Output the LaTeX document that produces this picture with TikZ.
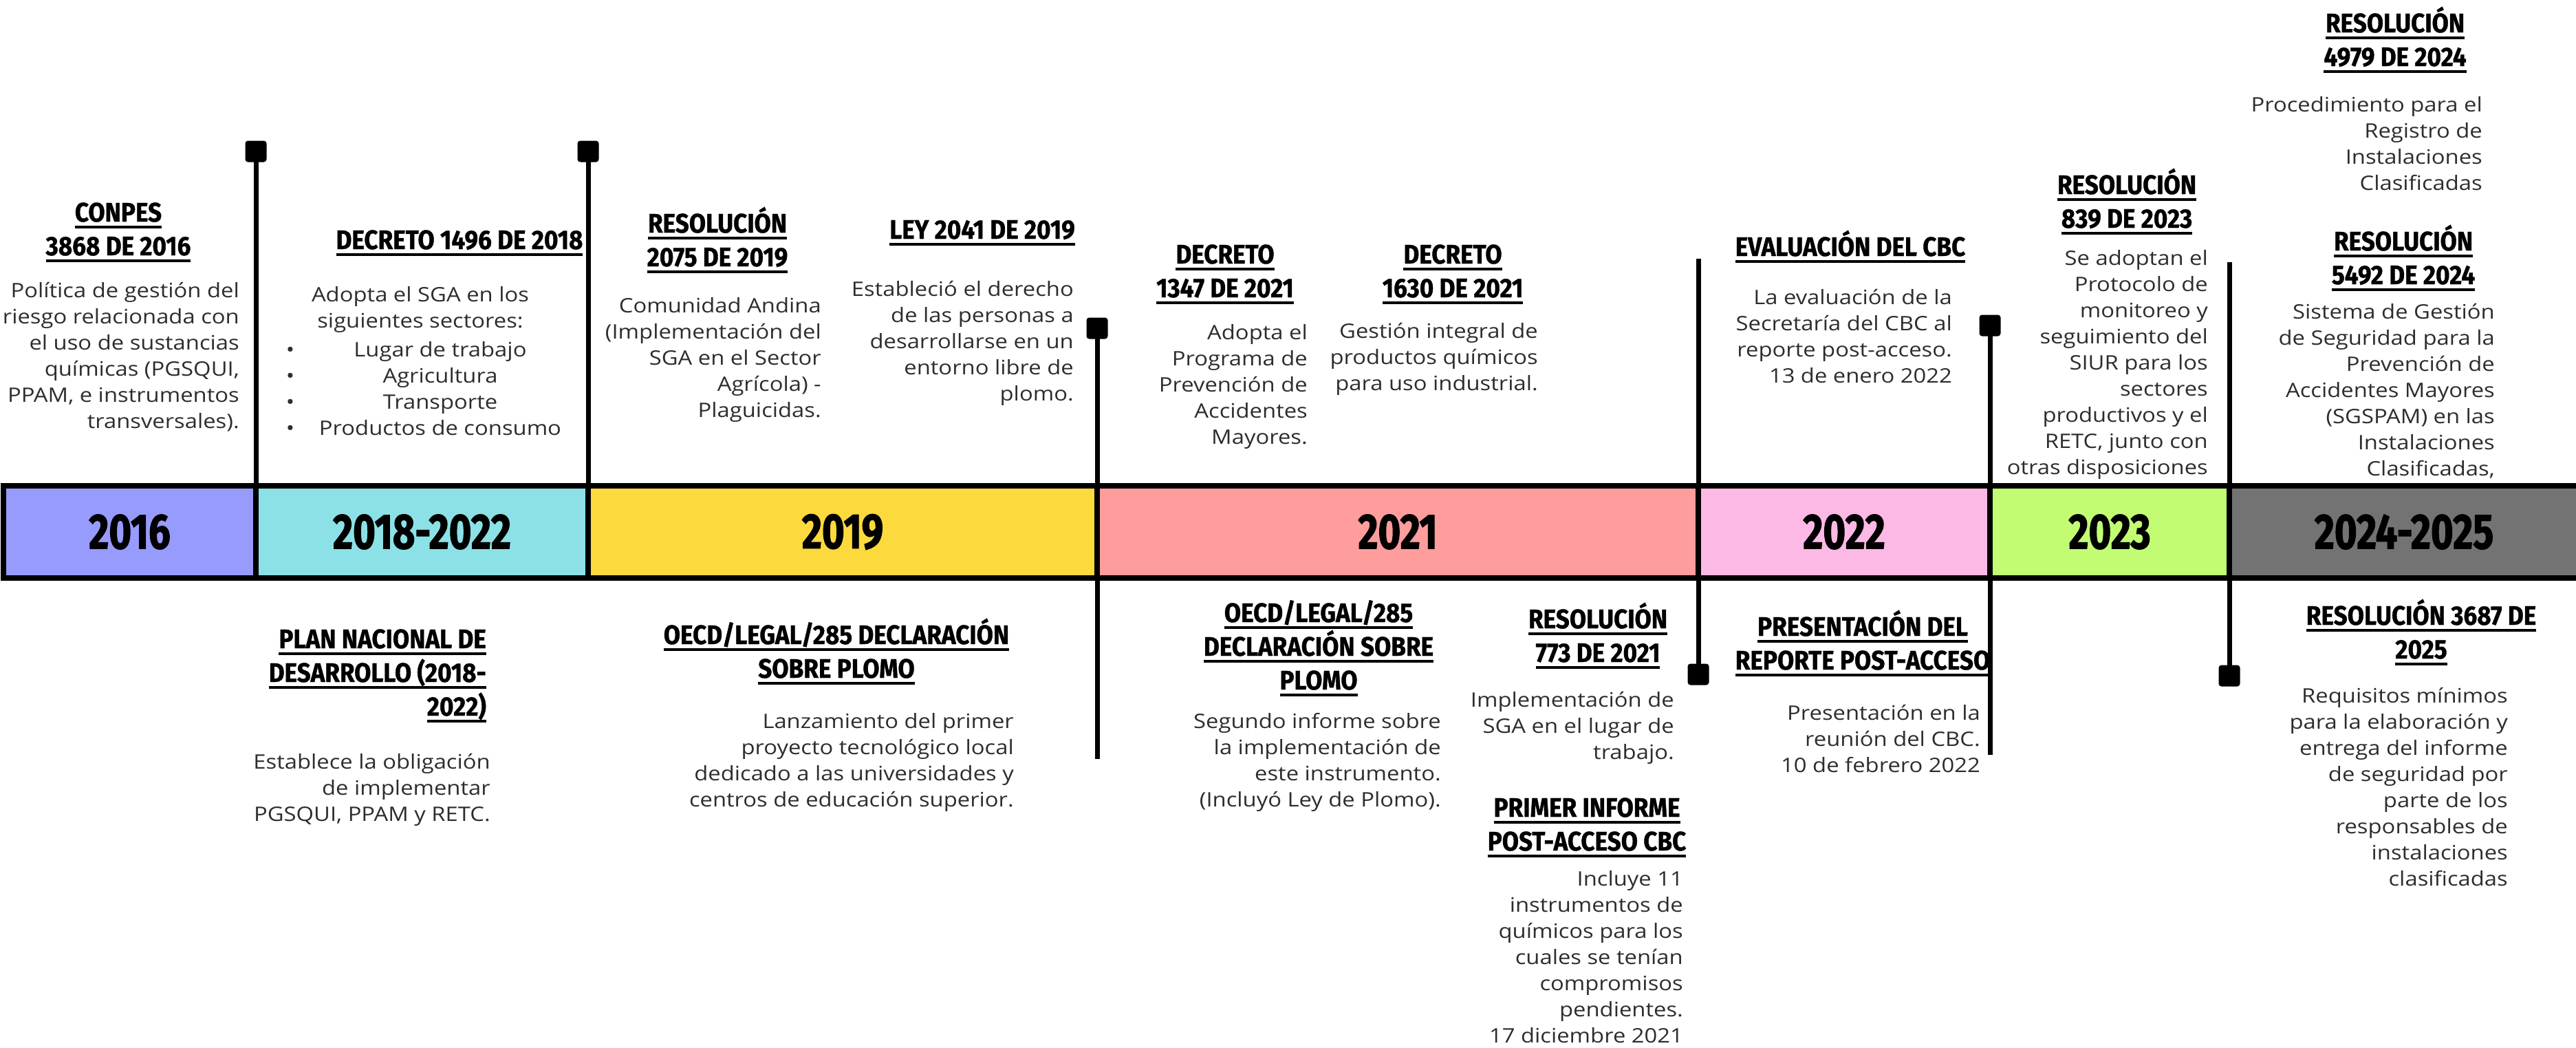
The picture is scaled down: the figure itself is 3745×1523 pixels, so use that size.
\documentclass[tikz,border=0pt]{standalone}
\usepackage{fontspec}
\setmainfont{Open Sans}[FakeStretch=1.13]
\newfontfamily\hfont[FakeStretch=0.9,FakeBold=1]{Fira Sans}
\newfontfamily\yfont[FakeStretch=0.78,FakeBold=1.5]{Fira Sans}
\definecolor{c2016}{RGB}{151,155,252}
\definecolor{c1822}{RGB}{139,225,230}
\definecolor{c2019}{RGB}{252,217,60}
\definecolor{c2021}{RGB}{255,156,156}
\definecolor{c2022}{RGB}{253,185,230}
\definecolor{c2023}{RGB}{193,252,114}
\definecolor{c2425}{RGB}{115,115,115}
\definecolor{bodygray}{RGB}{45,45,45}
\newcommand\ulx[1]{\setbox0=\hbox{#1}\leavevmode\rlap{\rule[-10pt]{\wd0}{4pt}}\box0}
\tikzset{
  hd/.style={font=\hfont\bfseries\fontsize{39}{49}\selectfont, align=center, anchor=base, inner sep=0pt, text=black},
  bd/.style={font=\fontsize{29}{38}\selectfont, align=right, anchor=base east, inner sep=0pt, text=bodygray},
  yr/.style={draw=black, line width=8pt, minimum height=134pt, inner sep=0pt,
     font=\yfont\bfseries\fontsize{72}{72}\selectfont, text=black},
  stem/.style={draw=black, line width=7pt},
  mk/.style={rectangle, rounded corners=4pt, fill=black, minimum width=31pt, minimum height=31pt, inner sep=0pt},
}
\begin{document}
\begin{tikzpicture}[x=1pt,y=-1pt]
\useasboundingbox[fill=white] (0,0) rectangle (3745,1523);

% ---------- upper texts (anchors at the baseline of the last line)
\node[hd] (a1) at (172,371) {\ulx{CONPES}\\\ulx{3868 DE 2016}};
\node[bd] (a2) at (348,622) {Política de gestión del\\riesgo relacionada con\\el uso de sustancias\\químicas (PGSQUI,\\PPAM, e instrumentos\\transversales).};

\node[hd] (b1) at (668,362) {\ulx{DECRETO 1496 DE 2018}};
\node[bd, align=center, anchor=base] (b2) at (611,476) {Adopta el SGA en los\\siguientes sectores:};
\node[bd, align=center, anchor=base] (b3) at (640,632) {Lugar de trabajo\\Agricultura\\Transporte\\Productos de consumo};
\node[bd, align=center, anchor=base] (b4) at (422,632) {•\\•\\•\\•};

\node[hd] (c1) at (1043,387) {\ulx{RESOLUCIÓN}\\\ulx{2075 DE 2019}};
\node[bd] (c2) at (1194,606) {Comunidad Andina\\(Implementación del\\SGA en el Sector\\Agrícola) -\\Plaguicidas.};

\node[hd] (d1) at (1428,347) {\ulx{LEY 2041 DE 2019}};
\node[bd] (d2) at (1561,582) {Estableció el derecho\\de las personas a\\desarrollarse en un\\entorno libre de\\plomo.};

\node[hd] (e1) at (1781,432) {\ulx{DECRETO}\\\ulx{1347 DE 2021}};
\node[bd] (e2) at (1901,645) {Adopta el\\Programa de\\Prevención de\\Accidentes\\Mayores.};

\node[hd] (f1) at (2112,432) {\ulx{DECRETO}\\\ulx{1630 DE 2021}};
\node[bd] (f2) at (2236,567) {Gestión integral de\\productos químicos\\para uso industrial.};

\node[hd] (g1) at (2690,372) {\ulx{EVALUACIÓN DEL CBC}};
\node[bd] (g2) at (2838,556) {La evaluación de la\\Secretaría del CBC al\\reporte post-acceso.\\13 de enero 2022};

\node[hd] (h1) at (3092,331) {\ulx{RESOLUCIÓN}\\\ulx{839 DE 2023}};
\node[bd] (h2) at (3210,689) {Se adoptan el\\Protocolo de\\monitoreo y\\seguimiento del\\SIUR para los\\sectores\\productivos y el\\RETC, junto con\\otras disposiciones};

\node[hd] (i1) at (3482,96) {\ulx{RESOLUCIÓN}\\\ulx{4979 DE 2024}};
\node[bd] (i2) at (3609,276) {Procedimiento para el\\Registro de\\Instalaciones\\Clasificadas};

\node[hd] (j1) at (3494,413) {\ulx{RESOLUCIÓN}\\\ulx{5492 DE 2024}};
\node[bd] (j2) at (3627,691) {Sistema de Gestión\\de Seguridad para la\\Prevención de\\Accidentes Mayores\\(SGSPAM) en las\\Instalaciones\\Clasificadas,};

% ---------- lower texts
\node[hd, align=right, anchor=base east] (k1) at (707,1040) {\ulx{PLAN NACIONAL DE}\\\ulx{DESARROLLO (2018-}\\\ulx{2022)}};
\node[bd] (k2) at (713,1193) {Establece la obligación\\de implementar\\PGSQUI, PPAM y RETC.};

\node[hd] (l1) at (1216,985) {\ulx{OECD/LEGAL/285 DECLARACIÓN}\\\ulx{SOBRE PLOMO}};
\node[bd] (l2) at (1474,1172) {Lanzamiento del primer\\proyecto tecnológico local\\dedicado a las universidades y\\centros de educación superior.};

\node[hd] (m1t) at (1917,1002) {\ulx{OECD/LEGAL/285}\\\ulx{DECLARACIÓN SOBRE}\\\ulx{PLOMO}};
\node[bd] (m2t) at (2095,1172) {Segundo informe sobre\\la implementación de\\este instrumento.\\(Incluyó Ley de Plomo).};

\node[hd] (n1) at (2323,962) {\ulx{RESOLUCIÓN}\\\ulx{773 DE 2021}};
\node[bd] (n2) at (2434,1103) {Implementación de\\SGA en el lugar de\\trabajo.};

\node[hd] (o1) at (2307,1236) {\ulx{PRIMER INFORME}\\\ulx{POST-ACCESO CBC}};
\node[bd] (o2) at (2447,1515) {Incluye 11\\instrumentos de\\químicos para los\\cuales se tenían\\compromisos\\pendientes.\\17 diciembre 2021};

\node[hd] (p1) at (2708,973) {\ulx{PRESENTACIÓN DEL}\\\ulx{REPORTE POST-ACCESO}};
\node[bd] (p2) at (2879,1122) {Presentación en la\\reunión del CBC.\\10 de febrero 2022};

\node[hd] (q1) at (3520,957) {\ulx{RESOLUCIÓN 3687 DE}\\\ulx{2025}};
\node[bd] (q2) at (3646,1287) {Requisitos mínimos\\para la elaboración y\\entrega del informe\\de seguridad por\\parte de los\\responsables de\\instalaciones\\clasificadas};

% ---------- markers and free ends
\node[mk] (mk1) at (372,220) {};
\node[mk] (mk2) at (855,220) {};
\node[mk] (mk3) at (1595,477) {};
\node[mk] (mk4) at (2469,980) {};
\node[mk] (mk5) at (2893,473) {};
\node[mk] (mk6) at (3241,982) {};
\coordinate (t4) at (2469,376);
\coordinate (t6) at (3241,381);
\coordinate (e3) at (1595,1103);
\coordinate (e5) at (2893,1097);
\coordinate (bartop) at (0,706);

% ---------- stems
\draw[stem] (mk1.center) -- (mk1 |- bartop);
\draw[stem] (mk2.center) -- (mk2 |- bartop);
\draw[stem] (mk3.center) -- (e3);
\draw[stem] (t4) -- (mk4.center);
\draw[stem] (mk5.center) -- (e5);
\draw[stem] (t6) -- (mk6.center);

% ---------- year bar
\node[yr, fill=c2016, minimum width=367pt] (y1) at (188.5,773) {2016};
\node[yr, fill=c1822, minimum width=483pt] (y2) at (613.5,773) {2018-2022};
\node[yr, fill=c2019, minimum width=740pt] (y3) at (1225,773) {2019};
\node[yr, fill=c2021, minimum width=874pt] (y4) at (2032,773) {2021};
\node[yr, fill=c2022, minimum width=424pt] (y5) at (2681,773) {2022};
\node[yr, fill=c2023, minimum width=348pt] (y6) at (3067,773) {2023};
\node[yr, fill=c2425, minimum width=508pt] (y7) at (3495,773) {2024-2025};
\end{tikzpicture}
\end{document}
